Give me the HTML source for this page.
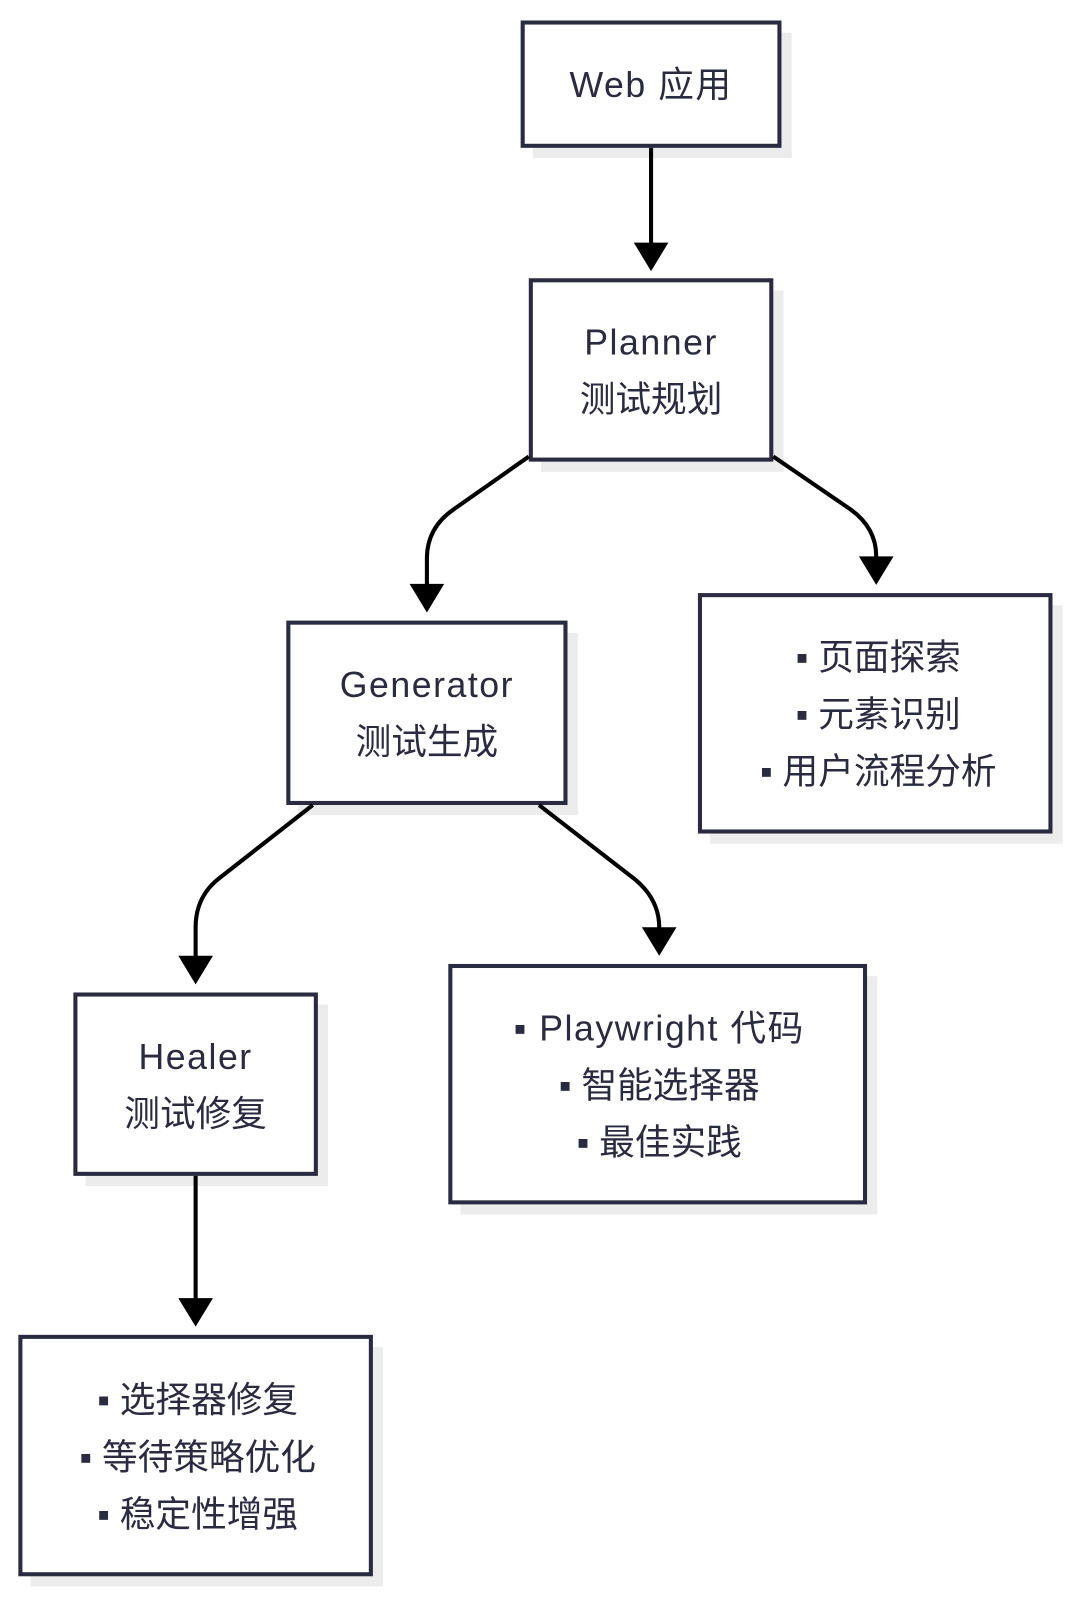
<!DOCTYPE html>
<html><head><meta charset="utf-8"><style>
html,body{margin:0;padding:0;background:#fff;}
svg{display:block;}
text{font-family:"Liberation Sans","Noto Sans CJK SC",sans-serif;fill:#2a2a40;font-size:35px;text-anchor:middle;}
.l{letter-spacing:1.5px;}
</style></head><body>
<svg width="1080" height="1609" viewBox="0 0 1060 1579" xmlns="http://www.w3.org/2000/svg">
<g fill="#ececec">
<rect x="523" y="32" width="254" height="123"/>
<rect x="531" y="285" width="238" height="178"/>
<rect x="293" y="621" width="274" height="179"/>
<rect x="697" y="594" width="346" height="234"/>
<rect x="84" y="986" width="238" height="178"/>
<rect x="452" y="958" width="409" height="234"/>
<rect x="30" y="1322" width="346" height="235"/>
</g>
<g fill="#fff" stroke="#2a2a40" stroke-width="4">
<rect x="513" y="22" width="252" height="121"/>
<rect x="521" y="275" width="236" height="176"/>
<rect x="283" y="611" width="272" height="177"/>
<rect x="687" y="584" width="344" height="232"/>
<rect x="74" y="976" width="236" height="176"/>
<rect x="442" y="948" width="407" height="232"/>
<rect x="20" y="1312" width="344" height="233"/>
</g>
<g fill="none" stroke="#000" stroke-width="4">
<path d="M639 145 V240"/>
<path d="M519 448 L445 500 Q419 518 419 548 V575"/>
<path d="M759 448 L835 500 Q860 518 860 546 V548"/>
<path d="M307 790 L215 862 Q192 880 192 910 V940"/>
<path d="M529 790 L622 862 Q647 882 647 910 V912"/>
<path d="M192 1154 V1276"/>
</g>
<g fill="#000">
<path d="M622 238 L656 238 L639 266 Z"/>
<path d="M402 573 L436 573 L419 601 Z"/>
<path d="M843 546 L877 546 L860 574 Z"/>
<path d="M175 938 L209 938 L192 966 Z"/>
<path d="M630 910 L664 910 L647 938 Z"/>
<path d="M175 1274 L209 1274 L192 1302 Z"/>
</g>
<text class="l" x="639" y="95">Web 应用</text>
<text class="l" x="639" y="348">Planner</text>
<text x="639" y="404">测试规划</text>
<text class="l" x="419" y="684">Generator</text>
<text x="419" y="740">测试生成</text>
<text class="l" x="192" y="1049">Healer</text>
<text x="192" y="1105">测试修复</text>
<text x="862" y="657">▪ 页面探索</text>
<text x="862" y="713">▪ 元素识别</text>
<text x="862" y="769">▪ 用户流程分析</text>
<text class="l" x="647" y="1021">▪ Playwright 代码</text>
<text x="647" y="1077">▪ 智能选择器</text>
<text x="647" y="1133">▪ 最佳实践</text>
<text x="194" y="1386">▪ 选择器修复</text>
<text x="194" y="1442">▪ 等待策略优化</text>
<text x="194" y="1498">▪ 稳定性增强</text>
</svg>
</body></html>
